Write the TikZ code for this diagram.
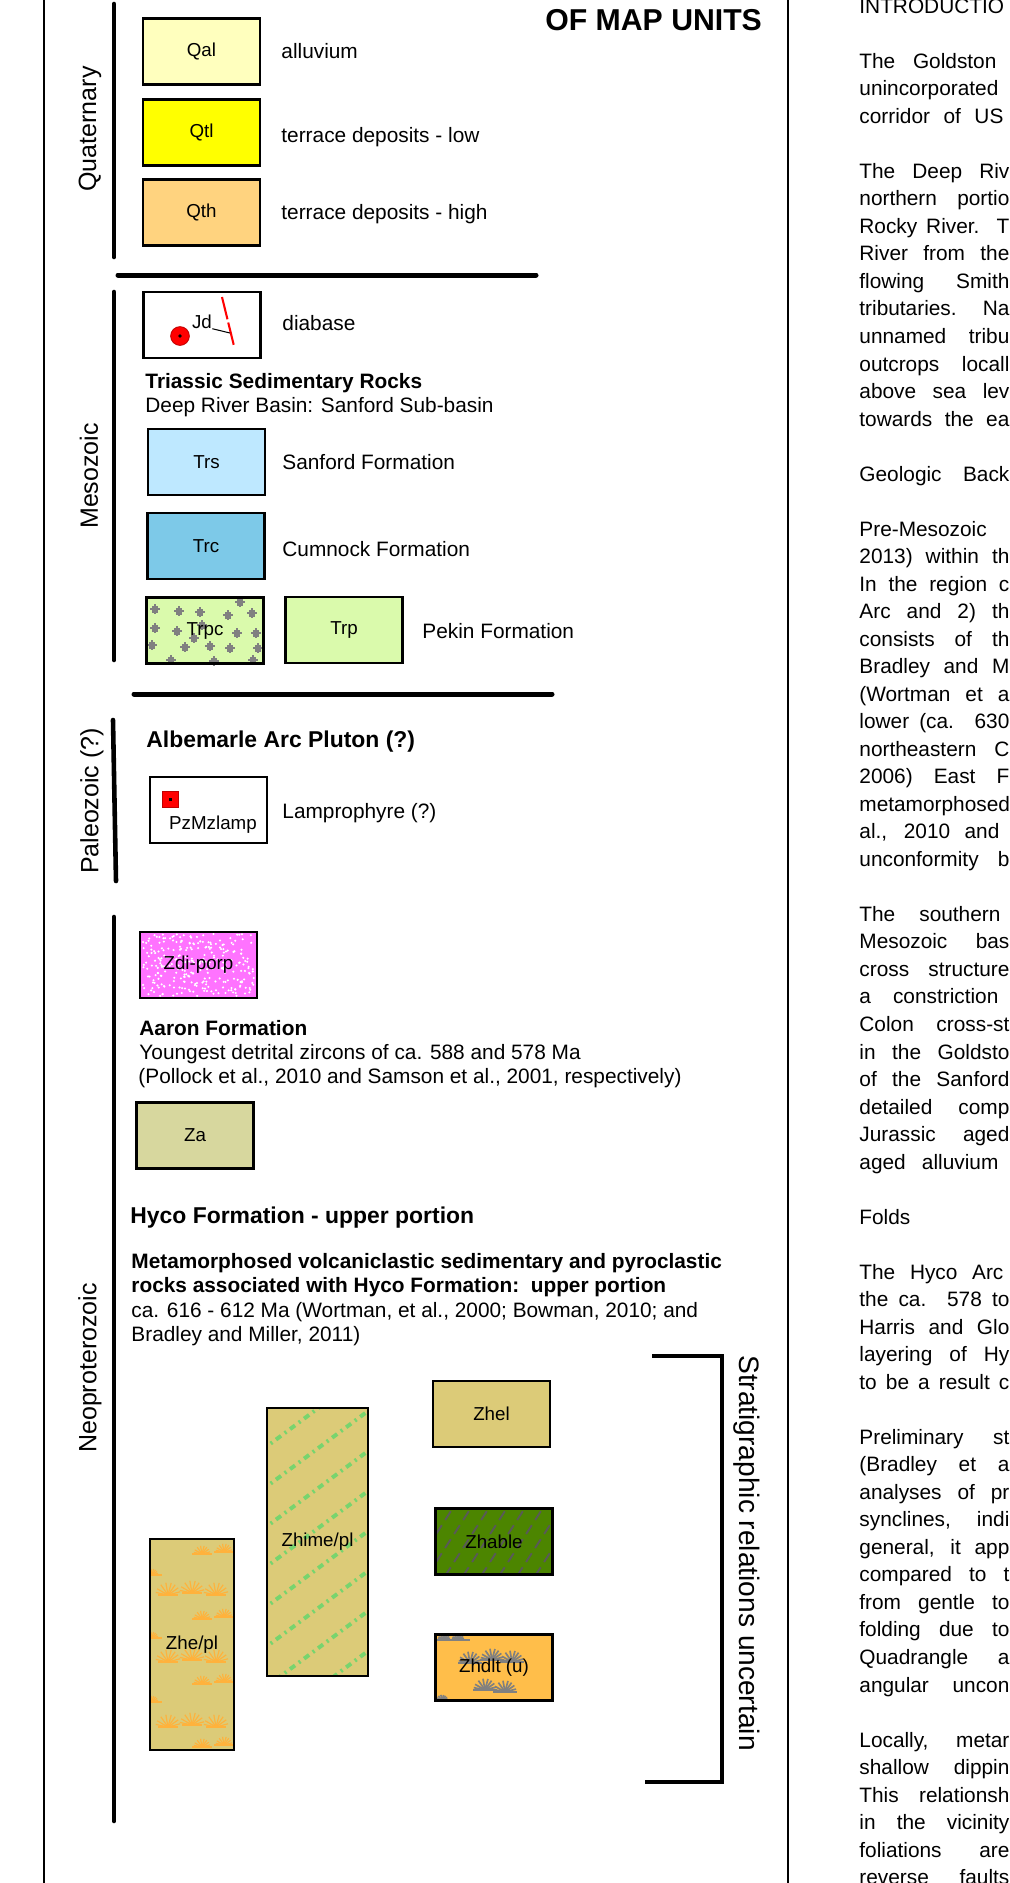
\documentclass[tikz,border=0pt]{standalone}
\usepackage{fontspec}
\setmainfont{Liberation Sans}
\usepackage{xcolor}
\usepackage{tikz}
\usetikzlibrary{shapes}
\usetikzlibrary{arrows}

\newdimen\pxu
\pxu=0.48pt
\newcommand{\jl}[2][150]{\makebox[#1\pxu][s]{#2}}

\definecolor{qalfill}{RGB}{255,255,190}
\definecolor{qtlfill}{RGB}{255,255,0}
\definecolor{qthfill}{RGB}{255,211,127}
\definecolor{trsfill}{RGB}{190,232,255}
\definecolor{trcfill}{RGB}{125,201,232}
\definecolor{trpfill}{RGB}{218,250,172}
\definecolor{zdifill}{RGB}{255,115,255}
\definecolor{zafill}{RGB}{215,215,158}
\definecolor{zhefill}{RGB}{220,203,120}
\definecolor{zhablefill}{RGB}{76,133,0}
\definecolor{zhdltfill}{RGB}{255,190,74}
\definecolor{tuftcol}{RGB}{255,178,60}
\definecolor{dashgreen}{RGB}{120,212,110}

\begin{document}
\begin{tikzpicture}[x = 0.48pt, y = -0.48pt,
    unit/.style = {draw, line width = 1.2pt, minimum width = 56pt, minimum height = 31.7pt, inner sep = 0pt, font = \fontsize{9pt}{11pt}\selectfont},
    unittxt/.style = {inner sep = 0pt, font = \fontsize{9pt}{11pt}\selectfont},
    lbl/.style = {anchor = base west, inner sep = 0pt, font = \fontsize{10pt}{12pt}\selectfont},
    lblb/.style = {lbl, font = \fontsize{10pt}{12pt}\selectfont\bfseries},
    hdb/.style = {lbl, font = \fontsize{11pt}{13pt}\selectfont\bfseries},
    era/.style = {rotate = 90, inner sep = 0pt, font = \fontsize{12pt}{14pt}\selectfont},
    bar/.style = {line width = 2.2pt, line cap = round},
    rule/.style = {line width = 2.4pt, line cap = round},
    tuftline/.style = {line width = 0.55pt},
    body/.style = {anchor = base west, inner sep = 0pt, font = \fontsize{10pt}{12pt}\selectfont}]
\useasboundingbox (0, 0) rectangle (1009, 1883);
\clip (0, 0) rectangle (1009, 1883);

\draw [line width = 0.9pt] (44, 0) -- (44, 1883);
\draw [line width = 1.3pt] (788, 0) -- (788, 1883);

\node [anchor = base west, inner sep = 0pt, font = \fontsize{14.5pt}{17pt}\selectfont\bfseries] (title) at (545, 30) {OF MAP UNITS};

\draw [bar] (114, 4) -- (114, 257);
\node [era] (quat) at (90, 129) {Quaternary};
\node [unit, fill = qalfill] (qal) at (201.5, 51.5) {Qal};
\node [unit, fill = qtlfill] (qtl) at (201.5, 132.5) {Qtl};
\node [unit, fill = qthfill] (qth) at (201.5, 212.5) {Qth};
\node [lbl] (qaltxt) at (281, 58) {alluvium};
\node [lbl] (qtltxt) at (281, 142) {terrace deposits - low};
\node [lbl] (qthtxt) at (281, 219) {terrace deposits - high};
\draw [rule] (118, 275) -- (536, 275);

\draw [bar] (114, 292) -- (114, 660);
\node [era] (meso) at (89, 476) {Mesozoic};
\node [unit, fill = white] (jd) at (202, 325) {};
\filldraw [fill = red, draw = red!75!black, line width = 0.4pt] (180, 336) circle (4.5pt);
\fill (180, 336) circle (0.9pt);
\draw [red, line width = 1pt, dash pattern = on 11pt off 1.6pt] (222, 297) -- (234, 346);
\node [unittxt] (jdlbl) at (202, 322) {Jd};
\coordinate (dike) at (230, 333);
\draw [line width = 0.5pt] (jdlbl.base east) -- (dike);
\node [lbl] (jdtxt) at (282, 330) {diabase};
\node [lblb] (trias) at (145, 388) {Triassic Sedimentary Rocks};
\node [lbl] (basin) at (145, 412) {Deep River Basin: Sanford Sub-basin};
\node [unit, fill = trsfill] (trs) at (206.5, 462) {Trs};
\node [lbl] (trstxt) at (282, 469) {Sanford Formation};
\node [unit, fill = trcfill] (trc) at (206, 546) {Trc};
\node [lbl] (trctxt) at (282, 556) {Cumnock Formation};
\fill [trpfill] (147, 598) rectangle (263, 663);
\foreach \bx/\by in {155/609, 179/611, 200/612, 228/615, 252/613, 240/602, 155/628, 177/631, 202/625, 237/633,
    256/633, 152/645, 185/647, 210/646, 230/648, 258/648, 171/660, 214/661, 253/660, 194/638}
{
    \fill [gray] ({\bx - 3.5}, {\by - 3}) rectangle ({\bx + 3}, {\by + 3.5});
    \fill [gray] ({\bx - 1}, {\by - 5}) rectangle ({\bx + 1}, {\by + 5});
    \fill [gray] ({\bx - 5}, {\by - 1}) rectangle ({\bx + 5}, {\by + 1});
}
\node [unit] (trpc) at (205, 630.5) {Trpc};
\node [unit, fill = trpfill] (trp) at (344, 630) {Trp};
\node [lbl] (trptxt) at (422, 638) {Pekin Formation};
\draw [rule] (134, 694) -- (552, 694);

\draw [bar] (113, 720) -- (116, 881);
\node [era] (paleo) at (92, 801) {Paleozoic (?)};
\node [hdb] (albe) at (146, 747) {Albemarle Arc Pluton (?)};
\node [unit] (pzm) at (208.5, 810) {};
\filldraw [fill = red, draw = red!75!black, line width = 0.3pt] (162, 791) rectangle (178, 807);
\fill (168.5, 797.5) rectangle (171.5, 800.5);
\node [unittxt] (pzmlbl) at (213, 825) {PzMzlamp};
\node [lbl] (lamp) at (282, 818) {Lamprophyre (?)};

\draw [bar] (114, 917) -- (114, 1821);
\node [era] (neo) at (90, 1368) {Neoproterozoic};
\fill [zdifill] (141, 932) rectangle (256, 998);
\pgfmathsetseed{7}
\foreach \i in {1, ..., 280}
    \fill [white] ({143 + 111*rnd}, {934 + 62*rnd}) circle (0.55pt);
\node [unit] (zdi) at (198.5, 965) {Zdi-porp};
\node [lblb] (aaron) at (139, 1035) {Aaron Formation};
\node [lbl] (aaron1) at (139, 1059) {Youngest detrital zircons of ca. 588 and 578 Ma};
\node [lbl] (aaron2) at (138, 1083) {(Pollock et al., 2010 and Samson et al., 2001, respectively)};
\node [unit, fill = zafill] (za) at (195, 1135.5) {Za};
\node [hdb] (hyco) at (130, 1223) {Hyco Formation - upper portion};
\node [lblb] (hyco1) at (131, 1268) {Metamorphosed volcaniclastic sedimentary and pyroclastic};
\node [lblb] (hyco2) at (131, 1292) {rocks associated with Hyco Formation:\ \ upper portion};
\node [lbl] (hyco3) at (131, 1317) {ca. 616 - 612 Ma (Wortman, et al., 2000; Bowman, 2010; and};
\node [lbl] (hyco4) at (131, 1341) {Bradley and Miller, 2011)};

\fill [zhefill] (150, 1539) rectangle (234, 1750);
\begin{scope}
\clip (150, 1539) rectangle (234, 1750);
\foreach \tx/\ty/\ts in {168/1595/6pt, 192/1593/6pt, 216/1595/6pt, 168/1662/6pt, 192/1660/6pt, 216/1662/6pt,
    168/1727/6pt, 192/1725/6pt, 216/1727/6pt, 202/1554/4pt, 224/1552/4pt, 202/1619/4pt, 224/1617/4pt,
    202/1684/4pt, 224/1682/4pt, 202/1747/4pt, 224/1745/4pt, 152/1575/3pt, 152/1638/3pt, 152/1702/3pt}
{
    \foreach \a in {15, 35, 55, 75, 100, 125, 150, 168}
        \draw [tuftline, tuftcol] (\tx, \ty) -- +(\a:\ts);
    \draw [tuftline, tuftcol] ({\tx - 10}, \ty) -- ({\tx + 10}, \ty);
}
\end{scope}
\node [unit, minimum width = 40.3pt, minimum height = 101.3pt] (zhe) at (192, 1644.5) {Zhe/pl};

\fill [zhefill] (267, 1408) rectangle (368, 1676);
\begin{scope}
\clip (267, 1408) rectangle (368, 1676);
\foreach \c in {1410, 1450, ..., 1790}
    \draw [dashgreen, line width = 1.9pt, dash pattern = on 3pt off 2.2pt on 1pt off 2.2pt] (262, \c) -- (372, {\c - 82});
\end{scope}
\node [unit, minimum width = 48.5pt, minimum height = 128.6pt] (zhime) at (317.5, 1542) {Zhime/pl};

\node [unit, fill = zhefill] (zhel) at (491.5, 1414) {Zhel};

\fill [zhablefill] (435, 1509) rectangle (553, 1574);
\begin{scope}
\clip (435, 1509) rectangle (553, 1574);
\foreach \c in {400, 418, ..., 580}
    \draw [black!65, line width = 0.9pt, dash pattern = on 5pt off 3pt] (\c, 1590) -- ({\c + 60}, 1497);
\end{scope}
\node [unit] (zhable) at (494, 1541.5) {Zhable};

\fill [zhdltfill] (436, 1634) rectangle (552, 1701);
\begin{scope}
\clip (436, 1634) rectangle (552, 1701);
\foreach \tx/\ty/\ts in {470/1663/5.5pt, 492/1660/5.5pt, 512/1662/5.5pt, 485/1690/5.5pt, 505/1692/5.5pt,
    444/1640/3pt, 458/1640/3pt, 442/1701/3pt}
{
    \foreach \a in {15, 35, 55, 75, 100, 125, 150, 168}
        \draw [line width = 0.8pt, gray] (\tx, \ty) -- +(\a:\ts);
    \draw [line width = 0.8pt, gray] ({\tx - 12}, \ty) -- ({\tx + 12}, \ty);
}
\end{scope}
\node [unit] (zhdlt) at (494, 1667.5) {Zhdlt (u)};

\coordinate (brtop) at (652, 1356);
\coordinate (brbot) at (645, 1782);
\draw [line width = 2pt] (brtop) -- (722, 1356) |- (brbot);
\node [rotate = -90, inner sep = 0pt, font = \fontsize{13.5pt}{16pt}\selectfont] (strat) at (747, 1553) {Stratigraphic relations uncertain};

\foreach \r/\t in {0/INTRODUCTIO, 3/unincorporated, 19/Pre-Mesozoic, 29/metamorphosed, 44/Folds}
    \node [body] (row\r) at (859, {13.26 + 27.52*\r}) {\t};
\foreach \r/\w/\t in {2/137/The Goldston, 4/144/corridor of US, 6/150/The Deep Riv, 7/150/northern portio,
    8/150/Rocky River. T, 9/150/River from the, 10/150/flowing Smith, 11/150/tributaries. Na, 12/150/unnamed tribu,
    13/150/outcrops locall, 14/150/above sea lev, 15/150/towards the ea, 17/150/Geologic Back,
    20/150/2013) within th, 21/150/In the region c, 22/150/Arc and 2) th, 23/150/consists of th,
    24/150/Bradley and M, 25/150/(Wortman et a, 26/150/lower (ca. 630, 27/150/northeastern C,
    28/150/2006) East F, 30/140/{al., 2010 and}, 31/150/unconformity b, 33/141/The southern,
    34/150/Mesozoic bas, 35/150/cross structure, 36/139/a constriction, 37/150/Colon cross-st,
    38/150/in the Goldsto, 39/150/of the Sanford, 40/150/detailed comp, 41/150/Jurassic aged,
    42/139/aged alluvium, 46/144/The Hyco Arc, 47/150/the ca. 578 to, 48/150/Harris and Glo,
    49/150/layering of Hy, 50/150/to be a result c, 52/150/Preliminary st, 53/150/(Bradley et a,
    54/150/analyses of pr, 55/150/{synclines, indi}, 56/150/{general, it app}, 57/150/compared to t,
    58/150/from gentle to, 59/150/folding due to, 60/150/Quadrangle a, 61/150/angular uncon,
    63/150/{Locally, metar}, 64/150/shallow dippin, 65/150/This relationsh, 66/150/in the vicinity,
    67/150/foliations are, 68/150/reverse faults}
    \node [body] (row\r) at (859, {13.26 + 27.52*\r}) {\jl[\w]{\t}};
\end{tikzpicture}
\end{document}
